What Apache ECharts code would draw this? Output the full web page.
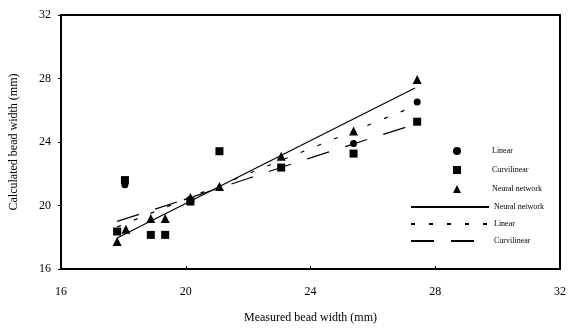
<!DOCTYPE html>
<html>
<head>
<meta charset="utf-8">
<script src="https://cdn.jsdelivr.net/npm/echarts@6/dist/echarts.min.js"></script>
<style>html,body{margin:0;padding:0;background:#fff;}#c{width:569px;height:329px;}</style>
</head>
<body>
<div id="c"></div>
<script>
// Markers
var linX = [18.05, 20.15, 25.38, 27.42];
var linY = [21.3, 20.4, 23.9, 26.52];
var curvX = [17.8, 18.05, 18.88, 19.34, 20.15, 21.08, 23.06, 25.38, 27.42];
var curvY = [18.36, 21.6, 18.15, 18.15, 20.25, 23.42, 22.39, 23.27, 25.28];
var nnX = [17.8, 18.08, 18.88, 19.34, 20.15, 21.08, 23.06, 25.38, 27.42];
var nnY = [17.74, 18.5, 19.18, 19.18, 20.5, 21.19, 23.1, 24.7, 27.93];
// Fitted lines
var nnLineX = [17.8, 27.35];
var nnLineY = [17.95, 27.4];
var linLineX = [17.8, 27.4];
var linLineY = [18.65, 26.3];
var curvLineX = [17.8, 20.0, 24.0, 27.4];
var curvLineY = [19.0, 20.4, 23.0, 25.15];
var axisTicks = [16, 20, 24, 28, 32];

function pairs(xs, ys) { return xs.map(function (x, i) { return [x, ys[i]]; }); }

var font = 'Liberation Serif';
var chart = echarts.init(document.getElementById('c'), null, {renderer: 'canvas'});
chart.setOption({
  animation: false,
  backgroundColor: '#fff',
  grid: {left: 55, right: 5, top: 15, bottom: 57, show: true, borderColor: '#000', borderWidth: 2},
  xAxis: {
    type: 'value', min: axisTicks[0], max: axisTicks[axisTicks.length - 1], interval: 4,
    name: 'Measured bead width (mm)', nameLocation: 'middle', nameGap: 43,
    nameTextStyle: {fontFamily: font, fontSize: 12, color: '#000'},
    axisLine: {lineStyle: {color: '#000', width: 2}},
    axisTick: {inside: true, length: 3, lineStyle: {color: '#000'}},
    axisLabel: {fontFamily: font, fontSize: 12, color: '#000', margin: 17},
    splitLine: {show: false}
  },
  yAxis: {
    type: 'value', min: axisTicks[0], max: axisTicks[axisTicks.length - 1], interval: 4,
    name: 'Calculated bead width (mm)', nameLocation: 'middle', nameGap: 41,
    nameTextStyle: {fontFamily: font, fontSize: 12, color: '#000'},
    axisLine: {lineStyle: {color: '#000', width: 2}},
    axisTick: {length: 3, lineStyle: {color: '#000'}},
    axisLabel: {fontFamily: font, fontSize: 12, color: '#000', margin: 10},
    splitLine: {show: false}
  },
  legend: [
    {
      data: [
        {name: 'Linear', icon: 'circle'},
        {name: 'Curvilinear', icon: 'rect'},
        {name: 'Neural network', icon: 'triangle'}
      ],
      orient: 'vertical', left: 448, top: 142, itemWidth: 8, itemHeight: 8, itemGap: 11,
      textStyle: {fontFamily: font, fontSize: 8, color: '#000', padding: [0, 0, 0, 26]}
    },
    {
      data: [
        {name: 'Neural network ', itemStyle: {opacity: 0}},
        {name: 'Linear ', itemStyle: {opacity: 0}},
        {name: 'Curvilinear ', itemStyle: {opacity: 0}}
      ],
      orient: 'vertical', left: 405, top: 198, itemWidth: 78, itemHeight: 8, itemGap: 9,
      textStyle: {fontFamily: font, fontSize: 8, color: '#000'}
    }
  ],
  series: [
    {name: 'Linear', type: 'scatter', symbol: 'circle', symbolSize: 7,
     itemStyle: {color: '#000', opacity: 1}, data: pairs(linX, linY), z: 3},
    {name: 'Curvilinear', type: 'scatter', symbol: 'rect', symbolSize: 8,
     itemStyle: {color: '#000', opacity: 1}, data: pairs(curvX, curvY), z: 3},
    {name: 'Neural network', type: 'scatter', symbol: 'triangle', symbolSize: 9,
     itemStyle: {color: '#000', opacity: 1}, data: pairs(nnX, nnY), z: 4},
    {name: 'Neural network ', type: 'line', symbol: 'none', data: pairs(nnLineX, nnLineY),
     lineStyle: {color: '#000', width: 1.2, type: 'solid'}, itemStyle: {color: '#000'}},
    {name: 'Linear ', type: 'line', symbol: 'none', data: pairs(linLineX, linLineY),
     lineStyle: {color: '#000', width: 1.2, type: [4, 14]}, itemStyle: {color: '#000'}},
    {name: 'Curvilinear ', type: 'line', symbol: 'none', smooth: true, data: pairs(curvLineX, curvLineY),
     lineStyle: {color: '#000', width: 1.2, type: [23, 17]}, itemStyle: {color: '#000'}}
  ]
});
</script>
</body>
</html>
